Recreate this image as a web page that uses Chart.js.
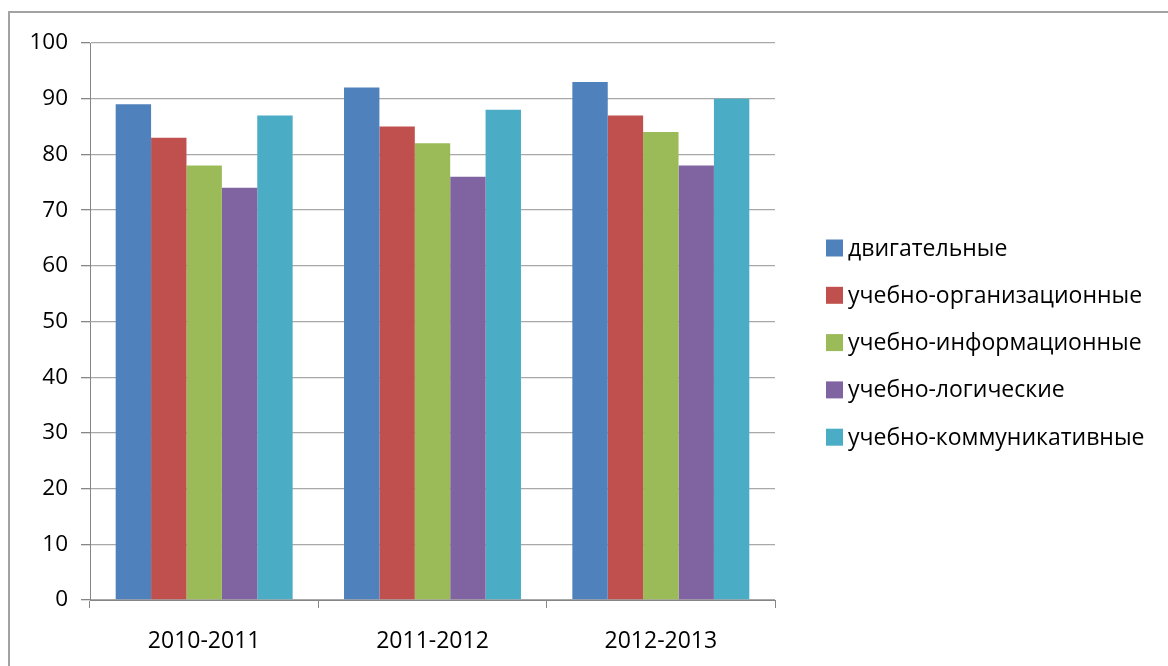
<!DOCTYPE html>
<html>
<head>
<meta charset="utf-8">
<script src="https://cdn.jsdelivr.net/npm/chart.js@4/dist/chart.umd.min.js"></script>
<style>
  html, body { margin: 0; padding: 0; background: #fff; }
  #wrap { position: relative; width: 1168px; height: 666px; overflow: hidden; }
  #frame { position: absolute; left: 8px; top: 11px; width: 1300px; height: 800px;
           border-left: 2px solid #a3a3a3; border-top: 2px solid #a3a3a3; }
  canvas { position: absolute; left: 0; top: 0; }
</style>
</head>
<body>
<div id="wrap">
  <div id="frame"></div>
  <canvas id="barchart" width="1168" height="666"></canvas>
</div>
<script>
const years = ['2010-2011', '2011-2012', '2012-2013'];
const seriesNames = ['двигательные', 'учебно-организационные', 'учебно-информационные', 'учебно-логические', 'учебно-коммуникативные'];
const dvigatelnye = [89, 92, 93];
const organizacionnye = [83, 85, 87];
const informacionnye = [78, 82, 84];
const logicheskie = [74, 76, 78];
const kommunikativnye = [87, 88, 90];
const yTicks = [0, 10, 20, 30, 40, 50, 60, 70, 80, 90, 100];
const colors = ['#4f81bd', '#c0504d', '#9bbb59', '#8064a2', '#4bacc6'];

const values = [dvigatelnye, organizacionnye, informacionnye, logicheskie, kommunikativnye];
const font = '"Open Sans", "Noto Sans", sans-serif';

// legend drawn on the right, like the Excel one
const sideLegend = {
    id: 'sideLegend',
    afterDraw(chart) {
        const ctx = chart.ctx;
        ctx.save();
        ctx.font = '23px ' + font;
        ctx.textBaseline = 'middle';
        chart.data.datasets.forEach((ds, i) => {
            const y = 248 + i * 47.3;
            ctx.fillStyle = ds.backgroundColor;
            ctx.fillRect(826, y - 8.5, 17, 17);
            ctx.fillStyle = '#000';
            ctx.fillText(ds.label, 848, y + 1);
        });
        ctx.restore();
    }
};

const ctx = document.getElementById('barchart').getContext('2d');
const myChart = new Chart(ctx, {
    type: 'bar',
    data: {
        labels: years,
        datasets: seriesNames.map((name, i) => ({
            label: name,
            data: values[i],
            backgroundColor: colors[i],
            borderWidth: 0,
            categoryPercentage: 0.775,
            barPercentage: 1
        }))
    },
    options: {
        responsive: false,
        animation: false,
        events: [],
        layout: {
            padding: { left: 0, top: 43, right: 393, bottom: 0 }
        },
        plugins: {
            legend: { display: false },
            tooltip: { enabled: false }
        },
        scales: {
            x: {
                grid: {
                    offset: true,
                    drawOnChartArea: false,
                    drawTicks: true,
                    tickLength: 8,
                    color: '#868686'
                },
                border: { color: '#868686', width: 1 },
                ticks: {
                    color: '#000',
                    padding: 20,
                    font: { family: font, size: 23 }
                },
                afterFit: (scale) => { scale.height = 66; }
            },
            y: {
                min: 0,
                max: 100,
                afterBuildTicks: (scale) => { scale.ticks = yTicks.map(v => ({ value: v })); },
                grid: {
                    color: '#a8a8a8',
                    lineWidth: 1.3,
                    tickLength: 9,
                    tickColor: '#868686'
                },
                border: { color: '#868686', width: 1 },
                ticks: {
                    color: '#000',
                    padding: 13,
                    font: { family: font, size: 22.5 }
                },
                afterFit: (scale) => { scale.width = 90; }
            }
        }
    },
    plugins: [sideLegend]
});
</script>
</body>
</html>
